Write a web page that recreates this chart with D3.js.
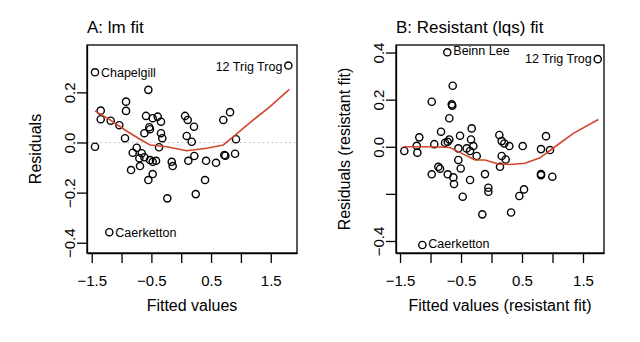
<!DOCTYPE html>
<html>
<head>
<meta charset="utf-8">
<script src="https://cdn.jsdelivr.net/npm/d3@7"></script>
<style>
  body { margin: 0; background: #fff; }
  svg text { font-family: "Liberation Sans", Arial, sans-serif; fill: #000; }
</style>
</head>
<body>
<svg id="chart" width="640" height="342"></svg>
<script>
// panel A: lm fit
var fitA = [-1.445, 1.795, -1.205, -0.551, -0.925, -0.925, -1.349, -1.349, -1.182, -1.037,
  -0.942, -1.445, -0.590, -0.478, -0.394, -0.339, -0.535, -0.523, -0.618, -0.339,
  -0.317, -0.372, -0.746, -0.813, -0.662, -0.702, -0.618, -0.523, -0.478, -0.422,
  -0.691, -0.841, -0.478, -0.551, -0.159, -0.143, -0.233, 0.064, 0.109, 0.214,
  0.092, 0.176, 0.219, 0.119, 0.416, 0.583, 0.399, 0.243, 0.705, 0.818,
  0.918, 0.722, 0.739, 0.902];
var resA = [0.280, 0.307, -0.358, 0.210, 0.163, 0.126, 0.127, 0.093, 0.087, 0.069,
  0.017, -0.017, 0.106, 0.097, 0.103, 0.083, 0.061, 0.053, 0.037, 0.037,
  0.017, -0.019, -0.021, -0.041, -0.043, -0.063, -0.059, -0.070, -0.077, -0.073,
  -0.094, -0.110, -0.126, -0.150, -0.077, -0.094, -0.223, 0.106, 0.090, 0.063,
  0.026, 0.003, -0.054, -0.073, -0.073, -0.081, -0.150, -0.206, 0.090, 0.121,
  0.013, -0.050, -0.053, -0.045];
var smoothAx = [-1.445, -1.193, -0.942, -0.719, -0.523, -0.243, 0.092, 0.427, 0.705, 0.873, 1.208, 1.488, 1.812];
var smoothAy = [0.126, 0.090, 0.050, 0.017, -0.010, -0.017, -0.033, -0.023, -0.010, 0.023, 0.090, 0.143, 0.212];
var namesA = ["Chapelgill", "12 Trig Trog", "Caerketton"];
var nameIdxA = [0, 1, 2];

// panel B: resistant (lqs) fit
var fitB = [-0.725, 1.741, -1.134, -0.636, -0.980, -0.652, -0.643, -0.692, -0.325, -0.828,
  -0.516, -0.692, -1.184, -1.226, -1.430, -1.216, -0.938, -0.762, -0.718, -0.544,
  -0.336, -0.298, -0.407, -0.352, -0.243, -0.544, -0.505, -0.872, -0.844, -0.980,
  -0.718, -0.626, -0.615, -0.352, -0.472, -0.107, -0.052, -0.052, -0.151, 0.128,
  0.167, 0.210, 0.292, 0.167, 0.233, 0.139, 0.511, 0.533, 0.456, 0.320,
  0.893, 0.811, 0.959, 0.811, 0.811, 0.997];
var resB = [0.401, 0.372, -0.417, 0.259, 0.191, 0.180, 0.174, 0.121, 0.078, 0.064,
  0.047, 0.031, 0.040, 0.004, -0.018, -0.025, 0.011, 0.017, 0.021, -0.007,
  0.031, 0.003, -0.007, -0.018, -0.039, -0.056, -0.092, -0.085, -0.093, -0.117,
  -0.117, -0.130, -0.158, -0.141, -0.212, -0.116, -0.174, -0.191, -0.287, 0.050,
  0.024, 0.014, 0.003, -0.039, -0.054, -0.085, 0.003, -0.181, -0.209, -0.279,
  0.045, -0.010, -0.014, -0.116, -0.121, -0.127];
var smoothBx = [-1.446, -1.008, -0.680, -0.489, -0.270, -0.107, 0.111, 0.303, 0.549, 0.795, 1.041, 1.341, 1.751];
var smoothBy = [0.000, 0.000, -0.003, -0.028, -0.056, -0.056, -0.073, -0.075, -0.070, -0.047, 0.000, 0.057, 0.116];
var namesB = ["Beinn Lee", "12 Trig Trog", "Caerketton"];
var nameIdxB = [0, 1, 2];

var xTicks = [-1.5, -1, -0.5, 0, 0.5, 1, 1.5];
var xTickLabels = ["\u22121.5", "", "\u22120.5", "", "0.5", "", "1.5"];
var yTicks = [0.4, 0.2, 0, -0.2, -0.4];
var yTickLabelsA = ["0.4", "0.2", "0.0", "\u22120.2", "\u22120.4"];
var yTickLabelsB = ["0.4", "0.2", "0.0", "", "\u22120.4"];

var svg = d3.select("#chart");

function drawPanel(p) {
  var g = svg.append("g");
  var x = d3.scaleLinear().domain(p.xdom).range([p.left, p.right]);
  var y = d3.scaleLinear().domain(p.ydom).range([p.bottom, p.top]);

  var yt = yTicks.filter(function(t) { return t >= p.ydom[0] && t <= p.ydom[1]; });
  var ytl = yTicks.map(function(t, i) { return p.yLabels[i]; })
    .filter(function(l, i) { return yTicks[i] >= p.ydom[0] && yTicks[i] <= p.ydom[1]; });

  // zero reference line
  if (p.zeroLine) {
    g.append("line")
      .attr("x1", p.left).attr("x2", p.right)
      .attr("y1", y(0)).attr("y2", y(0))
      .attr("stroke", "#b8b8b8").attr("stroke-width", 1.2)
      .attr("stroke-dasharray", "1.5,3");
  }

  // x axis
  var xa = g.append("g").attr("transform", "translate(0," + p.bottom + ")")
    .call(d3.axisBottom(x).tickValues(xTicks).tickSize(10).tickSizeOuter(0)
      .tickFormat(function(d, i) { return xTickLabels[i]; }));
  xa.select(".domain").attr("stroke-width", 1.3);
  xa.selectAll(".tick line").attr("stroke-width", 1.3);
  xa.selectAll(".tick text").attr("font-size", 15).attr("dy", "1.35em");

  // y axis
  var ya = g.append("g").attr("transform", "translate(" + p.left + ",0)")
    .call(d3.axisLeft(y).tickValues(yt).tickSize(10).tickSizeOuter(0)
      .tickFormat(function(d, i) { return ytl[i]; }));
  ya.select(".domain").attr("stroke-width", 1.3);
  ya.selectAll(".tick line").attr("stroke-width", 1.3);
  ya.selectAll(".tick text")
    .attr("font-size", 15)
    .attr("text-anchor", "middle")
    .attr("x", 0).attr("dy", 0)
    .attr("transform", "translate(-12,0) rotate(-90)");

  ya.attr("font-family", null);
  xa.attr("font-family", null);

  // box
  g.append("rect")
    .attr("x", p.left).attr("y", p.top)
    .attr("width", p.right - p.left).attr("height", p.bottom - p.top)
    .attr("fill", "none").attr("stroke", "#000").attr("stroke-width", 1.3);

  // points
  g.selectAll("circle.pt").data(p.fit).enter().append("circle")
    .attr("class", "pt")
    .attr("cx", function(d) { return x(d); })
    .attr("cy", function(d, i) { return y(p.res[i]); })
    .attr("r", 3.6)
    .attr("fill", "none").attr("stroke", "#000").attr("stroke-width", 1.4);

  // smooth
  var line = d3.line()
    .x(function(d) { return x(d[0]); })
    .y(function(d) { return y(d[1]); });
  g.append("path")
    .datum(p.sx.map(function(v, i) { return [v, p.sy[i]]; }))
    .attr("d", line)
    .attr("fill", "none").attr("stroke", "#d2452b").attr("stroke-width", 1.6);

  // point labels
  p.nameIdx.forEach(function(idx, k) {
    var side = p.nameSide[k];
    g.append("text")
      .attr("x", x(p.fit[idx]) + (side > 0 ? 6 : -6))
      .attr("y", y(p.res[idx]) + p.nameDy[k])
      .attr("text-anchor", side > 0 ? "start" : "end")
      .attr("font-size", 12.5)
      .text(p.names[k]);
  });

  // titles
  g.append("text").attr("x", p.left).attr("y", 33)
    .attr("font-size", 17).text(p.title);
  g.append("text").attr("x", (p.left + p.right) / 2).attr("y", 311)
    .attr("text-anchor", "middle").attr("font-size", 16).text(p.xlab);
  g.append("text")
    .attr("transform", "translate(" + p.ylabX + "," + (p.top + p.bottom) / 2 + ") rotate(-90)")
    .attr("text-anchor", "middle").attr("font-size", 16).text(p.ylab);
}

drawPanel({
  left: 87, right: 297, top: 45, bottom: 253,
  xdom: [-1.579, 1.94], ydom: [-0.441, 0.389],
  fit: fitA, res: resA, sx: smoothAx, sy: smoothAy,
  names: namesA, nameIdx: nameIdxA, nameSide: [1, -1, 1], nameDy: [5, 5, 5],
  yLabels: yTickLabelsA, zeroLine: true,
  title: "A: lm fit", xlab: "Fitted values", ylab: "Residuals", ylabX: 41
});

drawPanel({
  left: 396, right: 604, top: 45, bottom: 253,
  xdom: [-1.566, 1.844], ydom: [-0.451, 0.432],
  fit: fitB, res: resB, sx: smoothBx, sy: smoothBy,
  names: namesB, nameIdx: nameIdxB, nameSide: [1, -1, 1], nameDy: [3, 4, 3],
  yLabels: yTickLabelsB, zeroLine: false,
  title: "B: Resistant (lqs) fit", xlab: "Fitted values (resistant fit)",
  ylab: "Residuals (resistant fit)", ylabX: 350
});
</script>
</body>
</html>
